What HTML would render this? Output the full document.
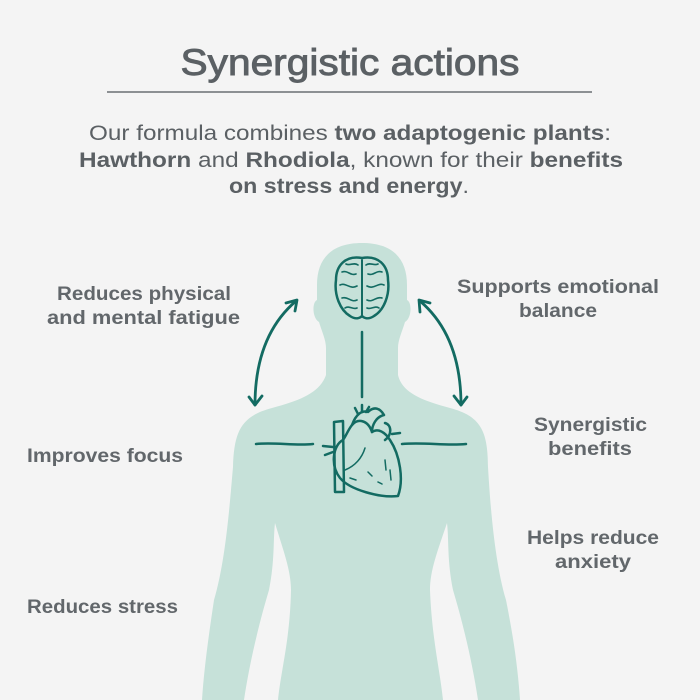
<!DOCTYPE html>
<html><head><meta charset="utf-8"><style>
html,body{margin:0;padding:0;background:#f4f4f4}
svg{display:block}
text{font-family:"Liberation Sans",sans-serif;fill:#5b6064}
.b{font-weight:bold}
.l{font-weight:bold;font-size:19px;fill:#62676b}
</style></head><body>
<svg width="700" height="700" viewBox="0 0 700 700" xmlns="http://www.w3.org/2000/svg">
<rect width="700" height="700" fill="#f4f4f4"/>
<text x="350" y="75" text-anchor="middle" font-size="37" textLength="339" lengthAdjust="spacingAndGlyphs" stroke="#5b6064" stroke-width="0.9">Synergistic actions</text>
<line x1="107" y1="92" x2="592" y2="92" stroke="#6a6f73" stroke-width="1.5"/>
<text x="89" y="140" font-size="21" textLength="522" lengthAdjust="spacingAndGlyphs">Our formula combines <tspan class="b">two adaptogenic plants</tspan>:</text>
<text x="79" y="167" font-size="21" textLength="544" lengthAdjust="spacingAndGlyphs"><tspan class="b">Hawthorn</tspan> and <tspan class="b">Rhodiola</tspan>, known for their <tspan class="b">benefits</tspan></text>
<text x="229" y="193" font-size="21" textLength="240" lengthAdjust="spacingAndGlyphs"><tspan class="b">on stress and energy</tspan>.</text>

<path fill="#c6e1d9" d="M362 243 C392 243 407 258 407 285 L407 300 C412 302 412 318 405 322 C402 332 398 340 398 348 L398 375 C402 392 420 400 450 408 C480 416 488 430 488 467 C490 500 494 560 506 600 C514 640 518 670 520 700 L478 700 C472 660 462 620 453 590 C447 560 449 540 447 523 C438 550 430 570 430 590 C432 640 440 670 443 700 L278 700 C281 670 290 640 291 590 C291 570 283 550 275 523 C273 540 275 560 269 590 C260 620 250 660 244 700 L202 700 C204 670 208 640 214 600 C226 560 230 500 233 467 C234 430 242 416 272 408 C302 400 320 392 326 375 L326 348 C326 340 322 332 319 322 C312 318 312 302 317 300 L317 285 C317 258 332 243 362 243 Z"/>

<g fill="none" stroke="#136b62" stroke-width="2.5" stroke-linecap="round" stroke-linejoin="round">
<path d="M362 258 C345 255 336 266 336 280 C334 295 340 310 350 316 C356 320 360 318 362 316 C364 318 368 320 374 316 C384 310 390 295 388 280 C388 266 379 255 362 258 Z"/>
<path d="M362 260 L362 316" stroke-width="2"/>
<path d="M342 272 C348 270 350 276 356 274 M340 285 C346 282 350 290 357 286 M342 298 C348 296 351 303 357 300 M345 308 C349 305 353 310 357 308 M368 274 C374 276 376 270 382 272 M367 286 C374 290 378 282 384 285 M367 300 C373 303 376 296 382 298 M367 308 C371 310 375 305 379 308 M346 264 C350 266 354 262 358 265 M366 265 C370 262 374 266 378 264" stroke-width="1.6"/>
<path d="M362 332 L362 397"/>
<path d="M256 444 C275 442 295 446 313 444 M402 444 C425 442 445 446 466 444"/>
<path d="M334 422 L343 421 L344 492 L335 492 Z"/>
<path d="M343 440 C333 445 330 465 340 478 C350 490 380 498 398 496 C404 480 400 455 390 440 C385 432 378 428 372 432 C368 420 358 418 352 425 C348 430 346 436 343 440"/>
<path d="M352 425 C356 414 362 410 368 412 C374 406 380 408 384 415 C376 417 372 425 372 432"/>
<path d="M385 423 C392 425 392 435 385 440"/>
<path d="M358 414 L355 408 M362 412 L362 405 M366 412 L369 407"/>
<path d="M333 447 L323 446 M333 452 L325 455 M392 434 L400 433"/>
<path d="M345 470 C355 466 362 458 365 448 M350 478 L356 480 M368 472 L372 476 M385 460 L386 470 M390 470 L391 480 M378 482 L382 484" stroke-width="1.5"/>
</g>

<g fill="none" stroke="#136b62" stroke-width="2.8" stroke-linecap="round" stroke-linejoin="round">
<path d="M296 301 C268 325 255 360 255 405"/>
<path d="M286 303 L297 300 L295 311"/>
<path d="M249 397 L255 405 L262 396"/>
<path d="M420 301 C448 325 461 360 461 405"/>
<path d="M420 312 L419 300 L430 303"/>
<path d="M454 396 L461 405 L467 397"/>
</g>

<text class="l" x="57" y="300" textLength="174" lengthAdjust="spacingAndGlyphs">Reduces physical</text>
<text class="l" x="47" y="324" textLength="193" lengthAdjust="spacingAndGlyphs">and mental fatigue</text>
<text class="l" x="457" y="293" textLength="202" lengthAdjust="spacingAndGlyphs">Supports emotional</text>
<text class="l" x="519" y="317" textLength="78" lengthAdjust="spacingAndGlyphs">balance</text>
<text class="l" x="27" y="462" textLength="156" lengthAdjust="spacingAndGlyphs">Improves focus</text>
<text class="l" x="534" y="431" textLength="113" lengthAdjust="spacingAndGlyphs">Synergistic</text>
<text class="l" x="548" y="455" textLength="84" lengthAdjust="spacingAndGlyphs">benefits</text>
<text class="l" x="527" y="544" textLength="132" lengthAdjust="spacingAndGlyphs">Helps reduce</text>
<text class="l" x="555" y="568" textLength="76" lengthAdjust="spacingAndGlyphs">anxiety</text>
<text class="l" x="27" y="613" textLength="151" lengthAdjust="spacingAndGlyphs">Reduces stress</text>
</svg>
</body></html>
